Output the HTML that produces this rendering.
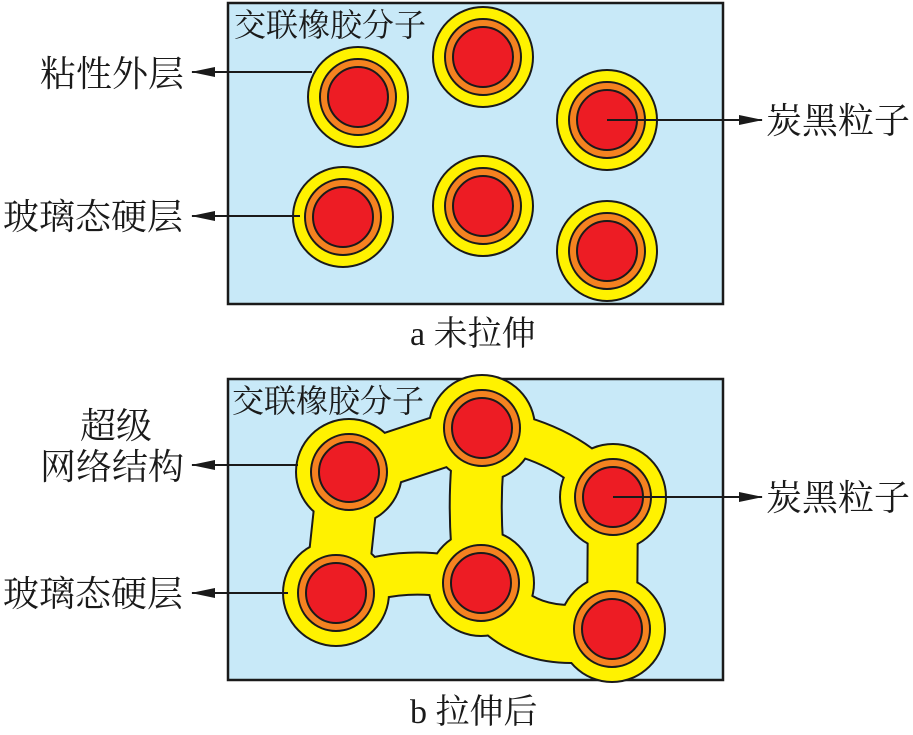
<!DOCTYPE html>
<html><head><meta charset="utf-8"><style>
html,body{margin:0;padding:0;background:#fff;}
svg text{font-family:"Liberation Serif","Noto Serif CJK SC",serif;fill:#1a1a1a;}
</style></head><body>
<svg width="913" height="730" viewBox="0 0 913 730" xmlns="http://www.w3.org/2000/svg">
<defs>
<marker id="ah" markerWidth="24" markerHeight="12" refX="23" refY="6" orient="auto" markerUnits="userSpaceOnUse">
<path d="M0,1 L24,6 L0,11 Z" fill="#1a1a1a"/>
</marker>
<g id="core">
<circle r="38" fill="#f58220" stroke="#1a1a1a" stroke-width="2"/>
<circle r="30" fill="#ed1c24" stroke="#1a1a1a" stroke-width="2"/>
</g>
</defs>
<!-- Panel a -->
<rect x="228" y="3" width="495" height="301" fill="#c8e9f8" stroke="#1a1a1a" stroke-width="2.5"/>
<text x="234" y="36" font-size="32">交联橡胶分子</text>
<g stroke="#1a1a1a" stroke-width="2" fill="#fff200">
<circle cx="358" cy="97" r="50"/>
<circle cx="483" cy="57" r="50"/>
<circle cx="607" cy="120" r="50"/>
<circle cx="343" cy="217" r="50"/>
<circle cx="483" cy="206" r="50"/>
<circle cx="607" cy="251" r="50"/>
</g>
<use href="#core" x="358" y="97"/><use href="#core" x="483" y="57"/><use href="#core" x="607" y="120"/>
<use href="#core" x="343" y="217"/><use href="#core" x="483" y="206"/><use href="#core" x="607" y="251"/>
<!-- Panel b -->
<rect x="228" y="379" width="495" height="301" fill="#c8e9f8" stroke="#1a1a1a" stroke-width="2.5"/>
<g stroke="#1a1a1a" stroke-linecap="round" fill="#1a1a1a">
<circle cx="349" cy="472" r="54" stroke="none"/><circle cx="482" cy="428" r="54" stroke="none"/>
<circle cx="613" cy="497" r="54" stroke="none"/><circle cx="336" cy="593" r="54" stroke="none"/>
<circle cx="481" cy="583" r="54" stroke="none"/><circle cx="612" cy="629" r="54" stroke="none"/>
<line x1="349" y1="472" x2="336" y2="593" stroke-width="64"/>
<line x1="349" y1="472" x2="482" y2="428" stroke-width="54"/>
<path d="M482,428 Q470,500 481,583" fill="none" stroke-width="54"/>
<path d="M482,428 Q570,440 613,497" fill="none" stroke-width="42"/>
<path d="M336,593 Q400,560 481,583" fill="none" stroke-width="44"/>
<path d="M481,583 Q520,650 612,629" fill="none" stroke-width="60"/>
<line x1="613" y1="497" x2="612" y2="629" stroke-width="52"/>
</g>
<g stroke="#fff200" stroke-linecap="round" fill="#fff200">
<circle cx="349" cy="472" r="52" stroke="none"/><circle cx="482" cy="428" r="52" stroke="none"/>
<circle cx="613" cy="497" r="52" stroke="none"/><circle cx="336" cy="593" r="52" stroke="none"/>
<circle cx="481" cy="583" r="52" stroke="none"/><circle cx="612" cy="629" r="52" stroke="none"/>
<line x1="349" y1="472" x2="336" y2="593" stroke-width="60"/>
<line x1="349" y1="472" x2="482" y2="428" stroke-width="50"/>
<path d="M482,428 Q470,500 481,583" fill="none" stroke-width="50"/>
<path d="M482,428 Q570,440 613,497" fill="none" stroke-width="38"/>
<path d="M336,593 Q400,560 481,583" fill="none" stroke-width="40"/>
<path d="M481,583 Q520,650 612,629" fill="none" stroke-width="56"/>
<line x1="613" y1="497" x2="612" y2="629" stroke-width="48"/>
</g>
<use href="#core" x="349" y="472"/><use href="#core" x="482" y="428"/><use href="#core" x="613" y="497"/>
<use href="#core" x="336" y="593"/><use href="#core" x="481" y="583"/><use href="#core" x="612" y="629"/>
<text x="232" y="412" font-size="32">交联橡胶分子</text>
<!-- leader lines -->
<g stroke="#1a1a1a" stroke-width="2">
<line x1="312" y1="72" x2="192" y2="72" marker-end="url(#ah)"/>
<line x1="300" y1="216" x2="192" y2="216" marker-end="url(#ah)"/>
<line x1="607" y1="120" x2="762" y2="120" marker-end="url(#ah)"/>
<line x1="298" y1="465" x2="192" y2="465" marker-end="url(#ah)"/>
<line x1="288" y1="593" x2="192" y2="593" marker-end="url(#ah)"/>
<line x1="613" y1="497" x2="762" y2="497" marker-end="url(#ah)"/>
</g>
<g font-size="36">
<text x="40" y="86">粘性外层</text>
<text x="3" y="229">玻璃态硬层</text>
<text x="766" y="133">炭黑粒子</text>
<text x="80" y="438">超级</text>
<text x="40" y="479">网络结构</text>
<text x="3" y="606">玻璃态硬层</text>
<text x="766" y="510">炭黑粒子</text>
<text x="410" y="345" font-size="34">a 未拉伸</text>
<text x="410" y="723" font-size="34">b 拉伸后</text>
</g>
</svg>
</body></html>
